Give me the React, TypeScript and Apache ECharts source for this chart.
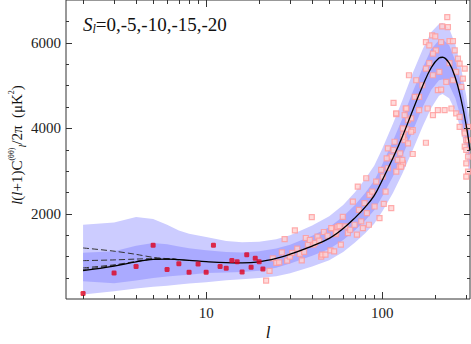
import React, { useEffect, useRef } from "react";
import * as echarts from "echarts";

// ---- data (multipole l, D_l in μK^2) ----
const bandL = [2, 3, 4, 5, 6, 7, 8, 10, 13, 16, 20, 25, 30, 40, 50, 60, 70, 80, 90, 100, 115, 130, 150, 170, 190, 210, 220, 240, 260, 280, 300, 315];
const theory = [665, 770, 870, 930, 935, 920, 905, 875, 850, 845, 870, 950, 1050, 1240, 1420, 1650, 1900, 2150, 2420, 2780, 3300, 3800, 4450, 5000, 5420, 5640, 5660, 5520, 5180, 4680, 4060, 3480];
const innerHigh = [1085, 1115, 1248, 1311, 1280, 1232, 1190, 1139, 1100, 1090, 1115, 1180, 1270, 1480, 1680, 1930, 2200, 2480, 2770, 3150, 3700, 4220, 4880, 5420, 5850, 6060, 6080, 5940, 5580, 5060, 4420, 3820];
const innerLow = [415, 370, 432, 494, 525, 548, 570, 611, 620, 630, 660, 730, 830, 1010, 1170, 1380, 1610, 1840, 2080, 2400, 2870, 3340, 3960, 4500, 4900, 5120, 5140, 5010, 4700, 4230, 3650, 3100];
const outerHigh = [1738, 1792, 1918, 1871, 1738, 1605, 1528, 1451, 1360, 1330, 1340, 1400, 1490, 1720, 1940, 2200, 2500, 2810, 3120, 3520, 4100, 4650, 5320, 5850, 6250, 6440, 6460, 6330, 5960, 5420, 4760, 4140];
const outerLow = [105, 182, 245, 285, 312, 338, 360, 392, 440, 465, 490, 530, 600, 760, 910, 1100, 1320, 1540, 1760, 2050, 2480, 2930, 3520, 4050, 4480, 4760, 4800, 4700, 4400, 3950, 3380, 2850];

const dashL = [2, 3, 4, 5, 6, 7];
const dashS5 = [1195, 1120, 1045, 975, 945, 925];
const dashS10 = [898, 915, 935, 945, 940, 922];
const dashS15 = [728, 800, 880, 935, 938, 921];
const dashS20 = [690, 785, 875, 932, 936, 920];

const redL = [2, 3, 4, 5, 6, 7, 8, 9, 10, 11, 12, 13, 14, 15, 16, 17, 18, 19, 20, 21];
const redV = [128, 611, 758, 1256, 688, 828, 626, 821, 626, 1256, 758, 719, 900, 870, 630, 1038, 742, 952, 870, 705];

const pinkPoints: number[][] = [
  [21.9, 432], [22.9, 658], [23.9, 952], [25, 845], [26, 859], [26.9, 1092], [27.9, 1404], [28.8, 898], [29.9, 992], [30.8, 1078],
  [31.9, 1605], [32.9, 1178], [34, 1055], [34.9, 905], [36, 1101], [36.8, 1428], [37.8, 1271], [38.8, 1381], [39.8, 1918], [40.7, 1271],
  [41.6, 1311], [42.9, 1458], [43.9, 1365], [45, 992], [45.6, 1038], [46.6, 1568], [47.6, 1038], [48.9, 1481], [50.8, 1139], [52, 1652],
  [53.3, 1115], [54.5, 1521], [55.7, 1691], [57.2, 1708], [58.2, 1271], [59.7, 1925], [51.3, 1661], [54.8, 1559], [61.8, 1699], [63.8, 1544],
  [65.8, 1621], [68.1, 2282], [69.6, 1738], [71.8, 1505], [73.7, 2088], [76, 1815], [77.6, 1661], [79.3, 2244], [81.8, 2011], [84, 1738],
  [72.6, 2632], [81.1, 2827], [84.7, 2438], [87.7, 2515], [92.4, 2748], [90.4, 2165], [96.5, 1894], [98.7, 3021], [100.7, 2865], [104.4, 2515],
  [107.6, 3061], [112.5, 2128], [107.6, 3527], [112.5, 3332], [115.9, 3488], [120.1, 2982], [122.6, 3255], [126.5, 3411], [125.4, 3099], [131, 3177],
  [133.9, 3721], [117.5, 3682], [115.9, 4591], [120.1, 4328], [135.9, 4460], [140, 4188], [141.8, 5238], [138, 3971], [132.2, 3854], [102, 2228],
  [234, 6598], [219, 6381], [236, 6365], [192, 6171], [200, 6148], [177, 6015], [185, 5938], [216, 6015], [241, 6038], [252, 6038],
  [202, 5821], [258, 5821], [194, 5744], [269, 5627], [185, 5524], [241, 5524], [275, 5510], [294, 5394], [177, 5394], [211, 5315],
  [263, 5315], [194, 5238], [287, 5161], [231, 5081], [207, 4888], [216, 4904], [252, 5121], [156, 5121], [281, 4965], [169, 5004],
  [153, 4732], [137, 4460], [134, 4304], [162, 4732], [162, 4421], [181, 4460], [207, 4421], [226, 4421], [247, 4460], [194, 4304],
  [263, 4344], [275, 4032], [294, 3915], [300, 3721], [294, 3565], [275, 4265], [307, 4032], [177, 3658], [146, 4227], [131, 3994],
  [149, 3954], [146, 3915], [131, 3798], [140, 3644], [149, 3395], [130, 3255], [128, 3099], [294, 3877], [307, 3721], [300, 3488],
  [307, 3332], [300, 3177], [307, 2982], [300, 2865], [120, 4344], [106, 3294],
];

const xMajorL = [10, 100];
const xMinorL = [2, 3, 4, 5, 6, 7, 8, 9, 20, 30, 40, 50, 60, 70, 80, 90, 200, 300];
const yMajor = [2000, 4000, 6000];
const yMinor = [500, 1000, 1500, 2500, 3000, 3500, 4500, 5000, 5500, 6500];

const L_MIN = 1.6;
const L_MAX = 315;
const Y_MAX = 7000;

const FONT = "Liberation Serif, Times New Roman, serif";
const lg = (l: number) => Math.log10(l);

function bandSeries(high: number[], low: number[], fill: string, z: number) {
  return {
    type: "custom",
    z,
    silent: true,
    clip: true,
    data: [[1, 1000]],
    renderItem: (_params: any, api: any) => {
      const pts: number[][] = [];
      for (let i = 0; i < bandL.length; i++) pts.push(api.coord([lg(bandL[i]), high[i]]));
      for (let i = bandL.length - 1; i >= 0; i--) pts.push(api.coord([lg(bandL[i]), low[i]]));
      return { type: "polygon", shape: { points: pts }, style: { fill, stroke: null } };
    },
  };
}

// frame ticks on all four sides, placed through the axis scales
const tickSeries = {
  type: "custom",
  z: 10,
  silent: true,
  clip: false,
  data: [[1, 1000]],
  renderItem: (_params: any, api: any) => {
    const children: any[] = [];
    const stroke = { stroke: "#333", lineWidth: 1 };
    const xt = (l: number, len: number) => {
      const b = api.coord([lg(l), 0]);
      const t = api.coord([lg(l), Y_MAX]);
      const x = Math.round(b[0]) + 0.5;
      children.push({ type: "line", shape: { x1: x, y1: b[1], x2: x, y2: b[1] - len }, style: stroke });
      children.push({ type: "line", shape: { x1: x, y1: t[1], x2: x, y2: t[1] + len }, style: stroke });
    };
    const yt = (v: number, len: number) => {
      const l = api.coord([lg(L_MIN), v]);
      const r = api.coord([lg(L_MAX), v]);
      const y = Math.round(l[1]) + 0.5;
      children.push({ type: "line", shape: { x1: l[0], y1: y, x2: l[0] + len, y2: y }, style: stroke });
      children.push({ type: "line", shape: { x1: r[0], y1: y, x2: r[0] - len, y2: y }, style: stroke });
    };
    xMajorL.forEach((l) => xt(l, 7));
    xMinorL.forEach((l) => xt(l, 4));
    yMajor.forEach((v) => yt(v, 6));
    yMinor.forEach((v) => yt(v, 3));
    return { type: "group", children };
  },
};

export default function App() {
  const ref = useRef<HTMLDivElement>(null);
  useEffect(() => {
    if (!ref.current) return;
    const chart = echarts.init(ref.current, undefined, { renderer: "svg" });
    const dashSeries = [dashS5, dashS10, dashS15, dashS20].map((arr) => ({
      type: "line",
      z: 5,
      symbol: "none",
      smooth: 0.3,
      silent: true,
      lineStyle: { color: "#333", width: 1, type: [6, 3] },
      data: dashL.map((l, i) => [lg(l), arr[i]]),
    }));
    chart.setOption({
      animation: false,
      grid: { left: 66, right: 1, top: 0, bottom: 45, containLabel: false, show: true, borderColor: "#333", borderWidth: 1, backgroundColor: "transparent" },
      xAxis: {
        type: "value",
        min: lg(L_MIN),
        max: lg(L_MAX),
        splitLine: { show: false },
        axisLine: { show: false },
        axisTick: { show: false },
        axisLabel: {
          show: true,
          customValues: xMajorL.map(lg),
          formatter: (v: number) => String(Math.round(Math.pow(10, v))),
          fontFamily: FONT,
          fontSize: 15,
          color: "#222",
          margin: 6,
        },
      },
      yAxis: {
        type: "value",
        min: 0,
        max: Y_MAX,
        splitLine: { show: false },
        axisLine: { show: false },
        axisTick: { show: false },
        axisLabel: {
          show: true,
          customValues: yMajor,
          formatter: (v: number) => String(v),
          fontFamily: FONT,
          fontSize: 15,
          color: "#222",
          margin: 5,
        },
      },
      series: [
        bandSeries(outerHigh, outerLow, "#ccccff", 1),
        bandSeries(innerHigh, innerLow, "#aaaaff", 2),
        {
          type: "scatter",
          z: 3,
          symbol: "rect",
          symbolSize: 5,
          silent: true,
          itemStyle: { color: "#ffd2d2", borderColor: "#ff9a9a", borderWidth: 1.2 },
          data: pinkPoints.map((p) => [lg(p[0]), p[1]]),
        },
        {
          type: "line",
          z: 6,
          symbol: "none",
          smooth: 0.4,
          silent: true,
          lineStyle: { color: "#000", width: 1.3 },
          data: bandL.map((l, i) => [lg(l), theory[i]]),
        },
        ...dashSeries,
        {
          type: "scatter",
          z: 7,
          symbol: "roundRect",
          symbolSize: 5,
          silent: true,
          itemStyle: { color: "#e0001c" },
          data: redL.map((l, i) => [lg(l), redV[i]]),
        },
        tickSeries,
      ],
      graphic: [
        {
          type: "text",
          x: 83,
          y: 24,
          style: {
            text: "{s|S}{sub|l}{n|=0,-5,-10,-15,-20}",
            textAlign: "left",
            align: "left",
            textVerticalAlign: "middle",
            verticalAlign: "middle",
            rich: {
              s: { fontFamily: FONT, fontSize: 19, fontStyle: "italic", fill: "#111", lineHeight: 22, verticalAlign: "middle" },
              sub: { fontFamily: FONT, fontSize: 12, fontStyle: "italic", fill: "#111", lineHeight: 22, verticalAlign: "bottom" },
              n: { fontFamily: FONT, fontSize: 19, fill: "#111", lineHeight: 22, verticalAlign: "middle" },
            },
          },
        },
        {
          type: "text",
          x: 17,
          y: 145,
          rotation: Math.PI / 2,
          style: {
            text: "{i|l}{m|(}{i|l}{m|+1)C}{sup|(θθ)}{sub|l}{m|/2π  (μK}{sup|2}{m|)}",
            textAlign: "center",
            align: "center",
            textVerticalAlign: "middle",
            verticalAlign: "middle",
            rich: {
              i: { fontFamily: FONT, fontSize: 15, fontStyle: "italic", fill: "#111", lineHeight: 20 },
              m: { fontFamily: FONT, fontSize: 15, fill: "#111", lineHeight: 20 },
              sup: { fontFamily: FONT, fontSize: 8, fill: "#111", lineHeight: 20, verticalAlign: "top" },
              sub: { fontFamily: FONT, fontSize: 10, fontStyle: "italic", fill: "#111", lineHeight: 20, verticalAlign: "bottom" },
            },
          },
        },
        {
          type: "text",
          x: 268,
          y: 332,
          style: {
            text: "l",
            font: "italic 17px " + FONT,
            fill: "#111",
            textAlign: "center",
            align: "center",
            textVerticalAlign: "middle",
            verticalAlign: "middle",
          },
        },
      ],
    });
    return () => chart.dispose();
  }, []);
  return <div ref={ref} style={{ position: "absolute", left: 0, top: 0, width: 471, height: 344 }} />;
}
